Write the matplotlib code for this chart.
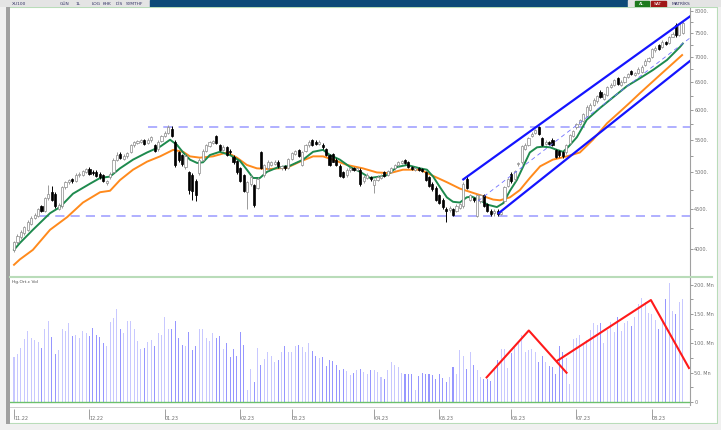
import matplotlib
matplotlib.use("Agg")
import matplotlib.pyplot as plt
from matplotlib.patches import Rectangle
import numpy as np

# daily candles, Nov 2022 .. Aug 2023
opens = [3990, 4080, 4140, 4190, 4230, 4300, 4380, 4410, 4530, 4470,
         4640, 4720, 4700, 4500, 4530, 4790, 4860, 4900, 4880, 4960,
         4970, 5010, 5050, 5010, 5000, 4980, 4960, 4850, 4930, 5000,
         5190, 5280, 5200, 5240, 5300, 5410, 5450, 5470, 5490, 5450,
         5490, 5420, 5350, 5480, 5560, 5610, 5680, 5470, 5300, 5260,
         5080, 5000, 4960, 4880, 4990, 5190, 5330, 5400, 5450, 5560,
         5420, 5340, 5380, 5330, 5230, 5170, 5060, 4960, 4720, 4840,
         4820, 4780, 5300, 4960, 5060, 5110, 5130, 5160, 5060, 5090,
         5070, 5200, 5280, 5340, 5110, 5320, 5410, 5490, 5470, 5430,
         5420, 5350, 5260, 5280, 5190, 5100, 5000, 4960, 5030, 5060,
         5040, 5040, 4870, 4920, 4930, 4820, 4890, 4920, 5000, 4970,
         5010, 5060, 5110, 5140, 5180, 5150, 5080, 5040, 5060, 5050,
         5000, 4930, 4840, 4780, 4680, 4620, 4500, 4480, 4490, 4470,
         4510, 4530, 4900, 4620, 4640, 4410, 4600, 4680, 4560, 4470,
         4440, 4470, 4430, 4600, 4810, 4980, 4900, 5120, 5150, 5360,
         5420, 5560, 5610, 5700, 5520, 5430, 5460, 5500, 5340, 5320,
         5300, 5300, 5450, 5560, 5700, 5760, 5810, 5900, 6000, 6080,
         6150, 6330, 6200, 6270, 6420, 6450, 6580, 6460, 6510, 6600,
         6720, 6650, 6680, 6700, 6830, 6920, 7000, 7140, 7240, 7200,
         7310, 7300, 7430, 7690, 7460, 7500]
closes = [4080, 4160, 4200, 4260, 4330, 4380, 4420, 4490, 4470, 4640,
          4700, 4620, 4530, 4550, 4790, 4860, 4890, 4870, 4960, 4980,
          5020, 5050, 4980, 4990, 4950, 4930, 4880, 4870, 4980, 5190,
          5260, 5220, 5250, 5290, 5410, 5460, 5480, 5490, 5440, 5490,
          5540, 5330, 5470, 5560, 5610, 5700, 5560, 5110, 5180, 5130,
          5250, 4750, 4730, 4680, 5190, 5330, 5410, 5460, 5480, 5450,
          5340, 5390, 5260, 5300, 5150, 5000, 4880, 4740, 4860, 4930,
          4550, 4910, 5070, 5110, 5150, 5150, 5160, 5090, 5090, 5060,
          5200, 5290, 5320, 5250, 5300, 5420, 5470, 5420, 5440, 5470,
          5380, 5260, 5110, 5160, 5110, 4950, 4940, 5040, 5060, 5040,
          5060, 4830, 4940, 4960, 4900, 4890, 4940, 4950, 4950, 5020,
          5060, 5110, 5150, 5170, 5140, 5080, 5050, 5060, 5040, 5020,
          4890, 4810, 4760, 4620, 4580, 4520, 4470, 4510, 4420, 4540,
          4560, 4840, 4780, 4680, 4610, 4680, 4680, 4540, 4470, 4430,
          4470, 4430, 4460, 4790, 4900, 4870, 5020, 5140, 5400, 5420,
          5520, 5600, 5660, 5590, 5420, 5470, 5440, 5420, 5230, 5260,
          5240, 5420, 5570, 5640, 5750, 5820, 5930, 6050, 6090, 6180,
          6250, 6230, 6280, 6420, 6460, 6540, 6470, 6510, 6600, 6660,
          6660, 6680, 6760, 6800, 6920, 6980, 7160, 7190, 7160, 7320,
          7270, 7420, 7490, 7460, 7700, 7740]
highs = [4100, 4180, 4230, 4280, 4350, 4400, 4440, 4510, 4550, 4660,
         4820, 4800, 4720, 4570, 4810, 4880, 4910, 4920, 4990, 5010,
         5040, 5070, 5080, 5040, 5030, 5000, 4980, 4890, 5000, 5210,
         5300, 5300, 5280, 5310, 5430, 5480, 5500, 5510, 5510, 5520,
         5560, 5440, 5490, 5580, 5640, 5740, 5720, 5500, 5330, 5280,
         5280, 5020, 4990, 4900, 5210, 5350, 5440, 5480, 5500, 5580,
         5440, 5410, 5400, 5350, 5260, 5190, 5080, 4980, 4880, 4960,
         4840, 4930, 5330, 5130, 5180, 5170, 5180, 5180, 5110, 5110,
         5220, 5310, 5340, 5360, 5320, 5440, 5500, 5510, 5490, 5500,
         5450, 5370, 5280, 5290, 5210, 5120, 5020, 5060, 5080, 5080,
         5080, 5060, 4960, 4990, 4950, 4910, 4960, 4980, 5020, 5040,
         5080, 5130, 5170, 5190, 5200, 5170, 5100, 5080, 5080, 5070,
         5020, 4950, 4860, 4800, 4700, 4640, 4520, 4530, 4510, 4560,
         4580, 4860, 4960, 4700, 4660, 4700, 4700, 4700, 4580, 4490,
         4490, 4490, 4480, 4810, 4920, 5000, 5040, 5160, 5420, 5450,
         5540, 5620, 5680, 5730, 5540, 5490, 5480, 5520, 5360, 5340,
         5320, 5440, 5590, 5660, 5770, 5850, 5950, 6080, 6120, 6210,
         6270, 6360, 6310, 6440, 6490, 6570, 6600, 6540, 6630, 6690,
         6740, 6710, 6790, 6830, 6960, 7010, 7190, 7220, 7270, 7350,
         7340, 7450, 7530, 7720, 7740, 7800]
lows = [3970, 4060, 4120, 4170, 4210, 4290, 4360, 4390, 4450, 4460,
        4620, 4600, 4510, 4480, 4510, 4770, 4840, 4850, 4860, 4940,
        4950, 4990, 4960, 4970, 4930, 4900, 4860, 4820, 4900, 4990,
        5170, 5200, 5180, 5220, 5290, 5390, 5430, 5450, 5420, 5430,
        5470, 5310, 5330, 5460, 5540, 5590, 5540, 5080, 5150, 5100,
        5050, 4700, 4610, 4600, 4970, 5170, 5310, 5380, 5430, 5430,
        5320, 5320, 5240, 5280, 5130, 4980, 4860, 4720, 4500, 4800,
        4520, 4760, 5050, 4940, 5040, 5090, 5110, 5070, 5040, 5030,
        5050, 5180, 5260, 5230, 5090, 5300, 5390, 5400, 5420, 5410,
        5360, 5240, 5090, 5150, 5090, 4930, 4920, 4940, 5010, 5020,
        5020, 4810, 4850, 4900, 4880, 4710, 4870, 4900, 4930, 4950,
        4990, 5040, 5090, 5120, 5120, 5060, 5030, 5020, 5020, 5000,
        4870, 4790, 4740, 4600, 4560, 4500, 4330, 4460, 4400, 4450,
        4490, 4510, 4760, 4600, 4590, 4390, 4580, 4520, 4450, 4410,
        4410, 4410, 4420, 4580, 4790, 4850, 4880, 5100, 5130, 5340,
        5400, 5540, 5590, 5570, 5400, 5410, 5420, 5400, 5210, 5230,
        5220, 5280, 5430, 5540, 5680, 5740, 5790, 5880, 5980, 6060,
        6130, 6210, 6180, 6250, 6400, 6430, 6450, 6440, 6490, 6580,
        6640, 6630, 6660, 6680, 6810, 6900, 6980, 7110, 7140, 7180,
        7240, 7280, 7410, 7430, 7440, 7480]

# volume, millions
volume = [76, 82, 93, 108, 122, 109, 105, 102, 93, 125,
          139, 111, 82, 88, 125, 122, 134, 112, 115, 109,
          121, 117, 112, 127, 114, 111, 100, 96, 136, 144,
          159, 125, 118, 138, 138, 124, 104, 91, 93, 102,
          106, 95, 117, 115, 145, 125, 125, 138, 110, 98,
          95, 119, 89, 95, 125, 124, 109, 104, 117, 109,
          113, 91, 100, 77, 90, 79, 119, 98, 21, 56,
          34, 93, 64, 74, 86, 78, 68, 72, 85, 95,
          85, 85, 95, 98, 94, 86, 100, 87, 78, 75,
          76, 61, 72, 70, 63, 54, 57, 53, 46, 50,
          55, 56, 52, 48, 55, 55, 51, 42, 40, 55,
          69, 63, 60, 50, 47, 48, 48, 21, 44, 49,
          48, 48, 46, 40, 48, 41, 34, 42, 59, 47,
          89, 78, 56, 86, 64, 55, 43, 40, 40, 35,
          56, 71, 91, 90, 58, 83, 95, 102, 115, 85,
          88, 91, 85, 68, 78, 68, 62, 60, 48, 96,
          86, 75, 30, 108, 110, 115, 101, 106, 123, 134,
          131, 134, 101, 123, 136, 119, 145, 121, 135, 139,
          130, 145, 168, 178, 170, 152, 150, 140, 125, 138,
          175, 203, 156, 150, 170, 176]

# moving averages (bar index, value)
fast_idx = [0, 1.7, 5.5, 10.5, 13.4, 17.2, 22.2, 25.1, 28, 30.9, 34.7, 38.8,
            42.6, 45.5, 47.5, 49.3, 51.3, 53.4, 55.1, 57.1, 60, 63, 65.9,
            67.9, 69.7, 71.7, 73.8, 76.7, 80.5, 84.3, 87.2, 90.1, 92.1, 95,
            98, 100.9, 103.8, 106.7, 108.7, 111.7, 114.6, 118.4, 120.4,
            122.2, 124.2, 126.2, 128, 130, 132, 133.5, 135.9, 138.2, 140.8,
            142.6, 144.6, 146.6, 148.4, 150.4, 152.5, 154.2, 156.3, 158.3,
            160.1, 161.5, 164.1, 167, 170.8, 174.6, 178.7, 182.5, 186.3,
            190.4, 194.2, 195]
fast_ma = [3990, 4070, 4230, 4440, 4520, 4700, 4840, 4920, 4940, 5060, 5190,
           5300, 5390, 5500, 5420, 5300, 5190, 5140, 5150, 5260, 5310, 5260,
           5170, 5040, 4920, 4920, 5010, 5070, 5100, 5190, 5310, 5340, 5260,
           5190, 5080, 5010, 4920, 4940, 4960, 5080, 5110, 5060, 5040, 4940,
           4790, 4650, 4590, 4580, 4650, 4660, 4610, 4550, 4520, 4570, 4740,
           4890, 5080, 5300, 5380, 5390, 5380, 5340, 5310, 5380, 5540, 5830,
           6030, 6220, 6430, 6580, 6740, 6940, 7210, 7280]
slow_idx = [0, 1.7, 5.5, 10.5, 15.5, 20.1, 25.1, 28, 30.9, 34.7, 38.8, 42.6,
            46.4, 49.3, 51.3, 54.2, 58, 62.1, 65, 67.9, 70.8, 74.6, 79.6,
            83.4, 87.2, 90.1, 93, 97.1, 101.7, 105.8, 109.6, 113.4, 118.4,
            122.2, 126.2, 130, 135.9, 139.7, 141.7, 144.6, 147.5, 150.4,
            153.4, 157.1, 161.2, 165, 168.8, 172.9, 176.7, 179.6, 182.5,
            188.3, 194.8]
slow_ma = [3820, 3880, 3990, 4230, 4390, 4580, 4720, 4740, 4890, 5040, 5160,
           5240, 5340, 5310, 5240, 5220, 5240, 5300, 5220, 5110, 5060, 5050,
           5070, 5160, 5240, 5240, 5190, 5110, 5060, 5000, 4990, 5040, 5040,
           4950, 4860, 4770, 4680, 4620, 4610, 4650, 4750, 4920, 5090, 5190,
           5240, 5300, 5500, 5770, 5970, 6130, 6300, 6640, 7040]

# drawn trend tools
chan_top = [(131, 4900), (197.1, 7880)]
chan_bottom = [(141.3, 4440), (197.1, 6920)]
chan_mid = [(135.3, 4600), (197.1, 7400)]
resistance = 5710
support = 4404
vol_lines = [[(137.8, 42), (150.1, 122), (161.1, 50)],
             [(158.3, 70), (185.7, 174), (196.8, 58)]]

month_pos = [0, 22, 44, 66, 81, 105, 124, 145, 164, 186]
month_lbl = ["11.22", "12.22", "01.23", "02.23", "03.23", "04.23",
             "05.23", "06.23", "07.23", "08.23"]
price_ticks = [4000, 4500, 5000, 5500, 6000, 6500, 7000, 7500, 8000]
vol_ticks = [0, 50, 100, 150, 200]
vol_lbl = ["0", "50. Mn", "100. Mn", "150. Mn", "200. Mn"]

W, H = 721, 430
fig = plt.figure(figsize=(W / 100, H / 100), dpi=100)
fig.patch.set_facecolor("#f0f0f0")


def frac(x0, y0, x1, y1):
    return [x0 / W, 1 - y1 / H, (x1 - x0) / W, (y1 - y0) / H]


# white chart area with light green frame
bg = fig.add_axes(frac(8, 7, 718, 424))
bg.set_xlim(0, 1); bg.set_ylim(0, 1); bg.axis("off")
bg.add_patch(Rectangle((0, 0), 1, 1, facecolor="white", edgecolor="#b9dcb9", lw=1.5))

# top toolbar
top = fig.add_axes(frac(0, 0, 721, 7))
top.set_xlim(0, W); top.set_ylim(7, 0); top.axis("off")
top.add_patch(Rectangle((0, 0), 150, 7, color="#e4e4e4"))
top.add_patch(Rectangle((150, 0), 478, 7, color="#0d4a78"))
top.add_patch(Rectangle((628, 0), 93, 7, color="#e4e4e4"))
top.add_patch(Rectangle((635, 0.5), 14, 6, color="#1d7a1d"))
top.add_patch(Rectangle((651, 0.5), 15, 6, color="#a01818"))
for x, t in [(12, "XU100"), (60, "GÜN"), (76, "1L"), (92, "LOG"), (103, "KHK"),
             (116, "DİS"), (126, "SYMTHF")]:
    top.text(x, 3.7, t, fontsize=3.2, color="#333366", va="center")
top.text(639, 3.7, "AL", fontsize=3.2, color="white", va="center")
top.text(654, 3.7, "SAT", fontsize=3.2, color="white", va="center")
top.text(672, 3.7, "MATRİKS", fontsize=3.2, color="#333366", va="center")

# left gray strip
strip = fig.add_axes(frac(6, 7, 10, 424))
strip.axis("off")
strip.add_patch(Rectangle((0, 0), 1, 1, transform=strip.transAxes, color="#a0a0a0"))

xmin, xmax = -1.17, 197.1
n = len(closes)
idx = np.arange(n)
o, c, hi, lo = map(np.array, (opens, closes, highs, lows))
up = c >= o

# ---- price panel
ax = fig.add_axes(frac(10, 8, 690, 275))
ax.set_facecolor("none")
ax.set_yscale("log")
ax.set_xlim(xmin, xmax)
ax.set_ylim(3708, 8075)

ax.axhline(resistance, xmin=(39 - xmin) / (xmax - xmin), color="#9a9aff", lw=1.1,
           dashes=(6, 4))
ax.axhline(support, xmin=(7.5 - xmin) / (xmax - xmin), color="#9a9aff", lw=1.1,
           dashes=(6, 4))

ax.plot(fast_idx, fast_ma, color="#1e8a4e", lw=1.4, zorder=3)
ax.plot(slow_idx, slow_ma, color="#ff8a1c", lw=1.4, zorder=2)

ax.vlines(idx[up], lo[up], hi[up], color="#9a9a9a", lw=0.7, zorder=4)
ax.vlines(idx[~up], lo[~up], hi[~up], color="black", lw=0.7, zorder=4)
ax.bar(idx[up], c[up] - o[up], bottom=o[up], width=0.62, facecolor="white",
       edgecolor="#8a8a8a", lw=0.5, zorder=5)
ax.bar(idx[~up], o[~up] - c[~up], bottom=c[~up], width=0.62, facecolor="black",
       edgecolor="black", lw=0.5, zorder=5)

for seg, lw, col, ls in [(chan_top, 1.6, "#1414ff", "-"), (chan_bottom, 1.6, "#1414ff", "-"),
                         (chan_mid, 0.6, "#7070ff", (0, (5, 4)))]:
    ax.plot([p[0] for p in seg], [p[1] for p in seg], color=col, lw=lw, ls=ls, zorder=6)

ax.set_xticks([])
ax.yaxis.tick_right()
ax.set_yticks(price_ticks)
ax.set_yticklabels([f"{t}." for t in price_ticks])
ax.yaxis.set_minor_locator(matplotlib.ticker.FixedLocator(
    [4250, 4750, 5250, 5750, 6250, 6750, 7250, 7750]))
ax.yaxis.set_minor_formatter(matplotlib.ticker.NullFormatter())
ax.tick_params(axis="y", which="both", labelsize=3.5, colors="#707070", length=2,
               width=0.5, pad=1)
for s in ["top", "left", "bottom"]:
    ax.spines[s].set_visible(False)
ax.spines["right"].set_color("#a0a0a0")
ax.spines["right"].set_linewidth(0.8)

# separator between panels
fig.add_artist(matplotlib.lines.Line2D([10 / W, 712 / W], [1 - 276.5 / H] * 2,
                                       color="#b9dcb9", lw=1.5))

# ---- volume panel
vx = fig.add_axes(frac(10, 278, 690, 405))
vx.set_facecolor("none")
vx.set_xlim(xmin, xmax)
vx.set_ylim(-5.1, 211.6)
vcol = np.where(up, "#c8c8ff", "#9696ff")
vx.bar(idx, volume, width=0.3, color=vcol, zorder=2)
vx.axhline(0, color="#6cc06c", lw=1.0, zorder=3)
for seg in vol_lines:
    vx.plot([p[0] for p in seg], [p[1] for p in seg], color="#ff1a1a", lw=1.5, zorder=4)
vx.text(0.003, 0.985, "Hg.Ort.c Vol", transform=vx.transAxes, fontsize=3.2,
        color="#505050", va="top")
vx.yaxis.tick_right()
vx.set_yticks(vol_ticks)
vx.set_yticklabels(vol_lbl)
vx.yaxis.set_minor_locator(matplotlib.ticker.FixedLocator([25, 75, 125, 175]))
vx.tick_params(axis="y", which="both", labelsize=3.5, colors="#707070", length=2,
               width=0.5, pad=1)
vx.set_xticks(month_pos)
vx.set_xticklabels(month_lbl)
vx.tick_params(axis="x", labelsize=3.5, colors="#707070", length=0, pad=8)
for lbl in vx.get_xticklabels():
    lbl.set_horizontalalignment("left")
for s in ["top", "left", "bottom"]:
    vx.spines[s].set_visible(False)
vx.spines["right"].set_color("#a0a0a0")
vx.spines["right"].set_linewidth(0.8)

# month separators in the date strip
date_ax = fig.add_axes(frac(10, 405, 690, 424))
date_ax.set_xlim(xmin, xmax); date_ax.set_ylim(0, 1); date_ax.axis("off")
date_ax.axhline(0.92, color="#c8c8c8", lw=0.6)
date_ax.vlines(month_pos, 0.25, 0.8, color="#909090", lw=0.6)

fig.savefig("out.png", dpi=100, facecolor=fig.get_facecolor())
